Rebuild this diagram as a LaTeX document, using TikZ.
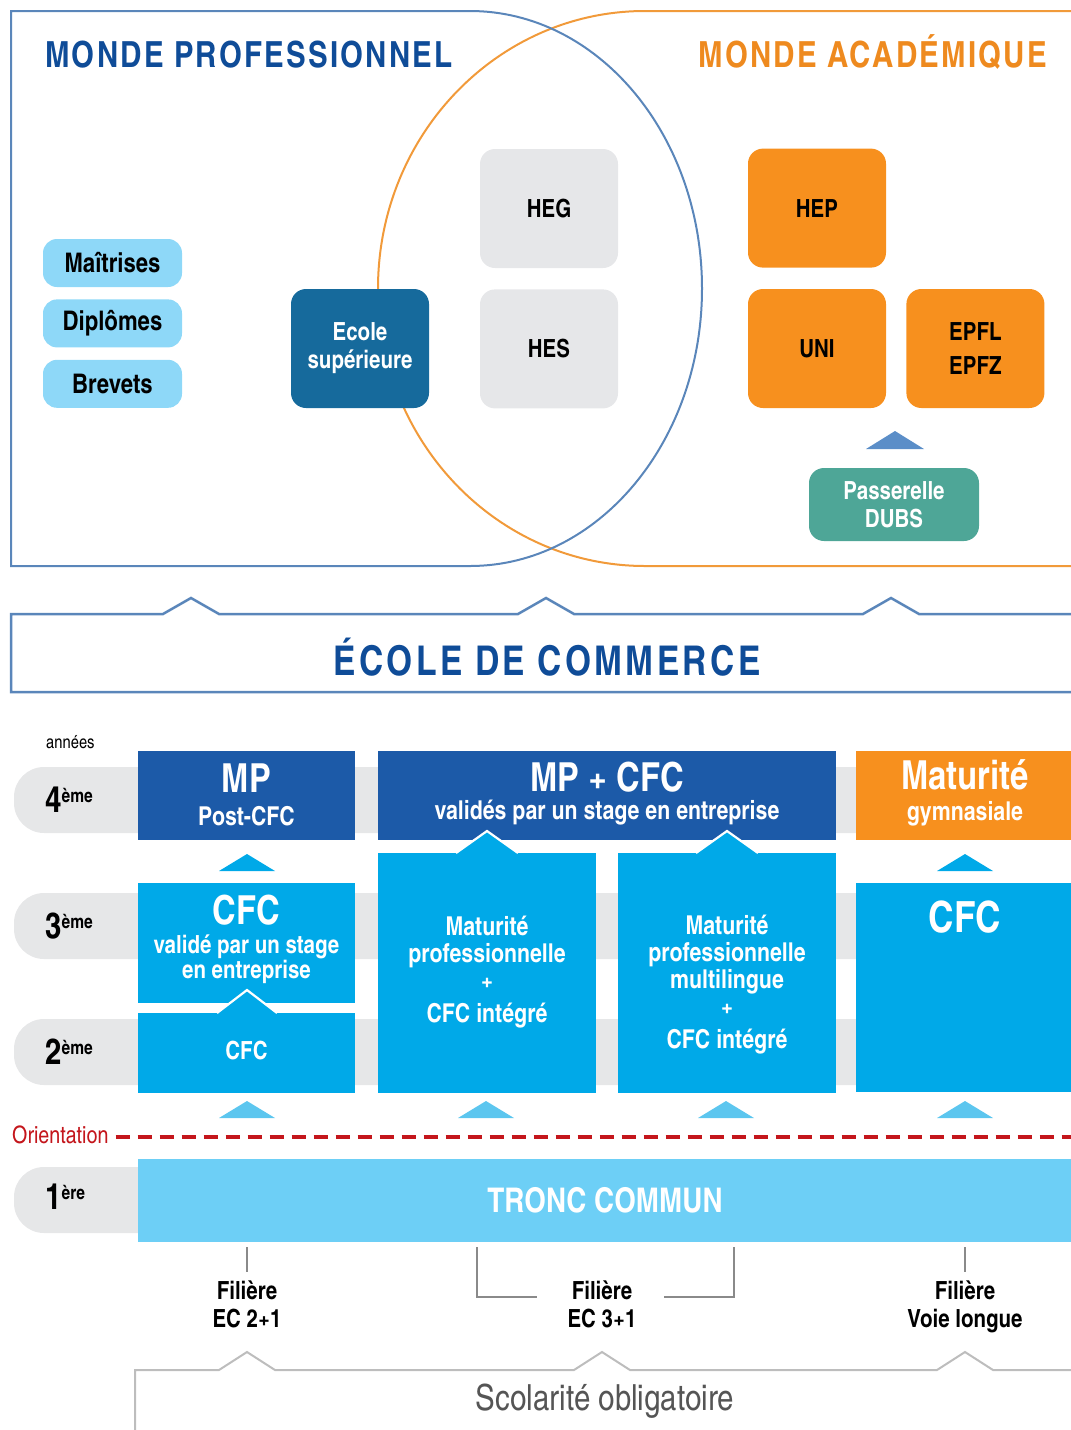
\documentclass[tikz,border=0pt]{standalone}
\usepackage{fontspec}
\setmainfont{texgyreheroscn}[Extension=.otf,UprightFont=*-regular,BoldFont=*-bold,ItalicFont=*-italic,BoldItalicFont=*-bolditalic]
\usetikzlibrary{positioning}

\definecolor{titleblue}{HTML}{0F4C98}
\definecolor{titleorange}{HTML}{EE8A1F}
\definecolor{frameblue}{HTML}{5A86BA}
\definecolor{frameorange}{HTML}{F19A3A}
\definecolor{pillblue}{HTML}{8ED8F8}
\definecolor{supblue}{HTML}{166A9C}
\definecolor{hesgrey}{HTML}{E6E7E9}
\definecolor{uniorange}{HTML}{F7901E}
\definecolor{dubsgreen}{HTML}{4EA697}
\definecolor{tipblue}{HTML}{5B8EC8}
\definecolor{mpblue}{HTML}{1C5AA8}
\definecolor{cfcblue}{HTML}{00A9E8}
\definecolor{lighttip}{HTML}{5CC6EF}
\definecolor{troncblue}{HTML}{6DCFF6}
\definecolor{bandgrey}{HTML}{E6E7E8}
\definecolor{orired}{HTML}{C4161C}
\definecolor{filgrey}{HTML}{8A8A8A}
\definecolor{scolgrey}{HTML}{BDBDBD}
\definecolor{scoltext}{HTML}{555555}

\tikzset{frame/.style = {line width=2pt}}
\tikzset{worldtitle/.style = {inner sep=0pt,
                              font=\bfseries\fontsize{36}{40}\selectfont\addfontfeature{LetterSpace=6}}}
\tikzset{pill/.style = {fill=pillblue, rounded corners=14pt, inner sep=0pt,
                        minimum width=139pt, minimum height=48pt,
                        font=\bfseries\fontsize{27}{28}\selectfont}}
\tikzset{school/.style = {rounded corners=15pt, inner sep=0pt, align=center,
                          minimum width=138pt, minimum height=119pt,
                          font=\bfseries\fontsize{25}{28}\selectfont}}
\tikzset{cellbox/.style = {inner sep=0pt, minimum height=#1}}
\tikzset{bigtxt/.style = {anchor=base, inner sep=0pt, text=white,
                          font=\bfseries\fontsize{40}{40}\selectfont}}
\tikzset{subtxt/.style = {inner sep=0pt, text=white, align=center,
                          font=\bfseries\fontsize{26}{27}\selectfont}}
\tikzset{year/.style = {anchor=base west, inner sep=0pt,
                        font=\bfseries\fontsize{36}{36}\selectfont}}
\tikzset{filiere/.style = {anchor=north, align=center, inner sep=0pt,
                           font=\bfseries\fontsize{25}{28}\selectfont}}
\tikzset{filline/.style = {filgrey, line width=1.2pt}}
\tikzset{caret/.style = {white, line width=2.2pt}}

\newcommand{\yearlabel}[1]{#1\raisebox{10pt}{\fontsize{19}{19}\selectfont ème}}

\begin{document}
\begin{tikzpicture}[x=1pt, y=-1pt]
    \useasboundingbox (0,0) rectangle (1071,1430);
    \clip (0,0) rectangle (1071,1430);

    \draw [frame, frameorange] (1090,11) -- (645,11)
      arc [start angle=-90, end angle=-270, x radius=267, y radius=277.5] -- (1090,566);
    \draw [frame, frameblue] (470,11)
      arc [start angle=-90, end angle=90, x radius=232, y radius=277.5] -- (11,566) -- (11,11) -- cycle;

    \node [worldtitle, text=titleblue, anchor=base west] (prof) at (45,67) {MONDE PROFESSIONNEL};
    \node [worldtitle, text=titleorange, anchor=base east] (acad) at (1047,67) {MONDE ACADÉMIQUE};

    \node [pill] (mait) at (112.5,263) {Maîtrises};
    \node [pill, below=12pt of mait] (dipl) {Diplômes};
    \node [pill, below=12pt of dipl] (brev) {Brevets};

    \node [school, fill=supblue, text=white] (esup) at (360,348.5) {Ecole\\supérieure};
    \node [school, fill=hesgrey] (heg) at (549,208.5) {HEG};
    \node [school, fill=hesgrey, below=21pt of heg] (hes) {HES};
    \node [school, fill=uniorange] (uni) at (817,348.5) {UNI};
    \node [school, fill=uniorange, above=21pt of uni] (hep) {HEP};
    \node [school, fill=uniorange, right=20pt of uni] (epf) {EPFL\\[6pt]EPFZ};
    \node [school, fill=dubsgreen, text=white, minimum width=170pt, minimum height=73pt] (dubs)
      at (894,504.5) {Passerelle\\DUBS};
    \fill [tipblue] (866,449) -- (895,431) -- (924,449) -- cycle;

    \draw [frameblue, line width=2.5pt] (1090,614) -- (919,614) -- (891,598) -- (863,614)
      -- (574,614) -- (546,598) -- (518,614) -- (219,614) -- (191,598) -- (163,614)
      -- (11,614) -- (11,692) -- (1090,692);
    \node [text=titleblue, font=\bfseries\fontsize{41}{41}\selectfont\addfontfeature{LetterSpace=8}]
      (ecom) at (547,657) {ÉCOLE DE COMMERCE};

    \node [anchor=base west, inner sep=0pt, font=\fontsize{18}{18}\selectfont] (annees) at (46,748) {années};

    \foreach \y in {767, 893, 1019, 1167} {
      \fill [bandgrey, rounded corners=30pt] (14,\y) rectangle (1090,\y+66);
    }
    \node [year] (y4) at (45,812) {\yearlabel{4}};
    \node [year] (y3) at (45,938) {\yearlabel{3}};
    \node [year] (y2) at (45,1064) {\yearlabel{2}};
    \node [year] (y1) at (45,1209) {1\raisebox{10pt}{\fontsize{19}{19}\selectfont ère}};

    \node [cellbox=89pt, fill=mpblue, minimum width=217pt] (mppost) at (246.5,795.5) {};
    \node [cellbox=89pt, fill=mpblue, minimum width=458pt] (mpcfc) at (607,795.5) {};
    \node [cellbox=89pt, fill=uniorange, minimum width=218pt] (matgym) at (965,795.5) {};
    \node [bigtxt] (mpposta) at (246.5,792) {MP};
    \node [subtxt, anchor=base] (mppostb) at (246.5,825) {Post-CFC};
    \node [bigtxt] (mpcfca) at (607,791) {MP + CFC};
    \node [subtxt, anchor=base] (mpcfcb) at (607,819) {validés par un stage en entreprise};
    \node [bigtxt] (matgyma) at (965,789) {Maturité};
    \node [subtxt, anchor=base] (matgymb) at (965,820) {gymnasiale};

    \foreach \x in {247, 965} {
      \fill [cfcblue] (\x-28,871) -- (\x,854) -- (\x+28,871) -- cycle;
    }

    \node [cellbox=120pt, fill=cfcblue, minimum width=217pt] (cfcstage) at (246.5,943) {};
    \node [cellbox=80pt, fill=cfcblue, minimum width=217pt] (cfcone) at (246.5,1053) {};
    \node [cellbox=240pt, fill=cfcblue, minimum width=218pt] (matpro) at (487,973) {};
    \node [cellbox=240pt, fill=cfcblue, minimum width=218pt] (matmulti) at (727,973) {};
    \node [cellbox=209pt, fill=cfcblue, minimum width=218pt] (cfclong) at (965,987.5) {};

    \fill [cfcblue] (217,1014) -- (247,990) -- (277,1014) -- cycle;
    \draw [caret] (217,1013) -- (247,990) -- (277,1013);
    \foreach \x in {487, 727} {
      \fill [cfcblue] (\x-31,854) -- (\x,831) -- (\x+31,854) -- cycle;
      \draw [caret] (\x-31,853) -- (\x,831) -- (\x+31,853);
    }

    \node [bigtxt] (cfcstagea) at (246.5,924) {CFC};
    \node [subtxt, font=\bfseries\fontsize{25}{25}\selectfont] (cfcstageb) at (246.5,959) {validé par un stage\\en entreprise};
    \node [subtxt, font=\bfseries\fontsize{25}{25}\selectfont] (cfconet) at (246.5,1051) {CFC};
    \node [subtxt] (matprot) at (487,972) {Maturité\\professionnelle\\+\\[6pt]CFC intégré};
    \node [subtxt] (matmultit) at (727,985) {Maturité\\professionnelle\\multilingue\\+\\[6pt]CFC intégré};
    \node [bigtxt, font=\bfseries\fontsize{43}{43}\selectfont] (cfclongt) at (965,932) {CFC};

    \foreach \x in {247, 486, 726, 965} {
      \fill [lighttip] (\x-28,1118) -- (\x,1101) -- (\x+28,1118) -- cycle;
    }

    \node [anchor=base west, inner sep=0pt, text=orired, font=\fontsize{24}{24}\selectfont]
      (orient) at (12,1143) {Orientation};
    \coordinate (oriend) at (1085,1137);
    \draw [orired, line width=3.5pt, dash pattern=on 14pt off 8pt] (orient.east |- oriend) ++(7,0) -- (oriend);

    \node [cellbox=83pt, fill=troncblue, minimum width=934pt, text=white,
           font=\bfseries\fontsize{34}{34}\selectfont] (tronc) at (605,1200.5) {TRONC COMMUN};

    \node [filiere] (fil21) at (247,1281) {Filière\\EC 2+1};
    \node [filiere] (fil31) at (602,1281) {Filière\\EC 3+1};
    \node [filiere] (fillong) at (965,1281) {Filière\\Voie longue};

    \coordinate (tbase) at ([yshift=-5pt]tronc.south);
    \coordinate (brl) at (477,1247);
    \coordinate (brr) at (734,1247);
    \draw [filline] (tbase -| fil21) -- ++(0,25);
    \draw [filline] (tbase -| fillong) -- ++(0,25);
    \draw [filline] (brl) |- ([xshift=-30pt,yshift=-16pt]fil31.north west);
    \draw [filline] (brr) |- ([xshift=27pt,yshift=-16pt]fil31.north east);

    \draw [scolgrey, line width=2pt] (135,1440) -- (135,1370) -- (219,1370) -- (247,1352) -- (275,1370)
      -- (574,1370) -- (602,1352) -- (630,1370) -- (937,1370) -- (965,1352) -- (993,1370) -- (1090,1370);
    \node [text=scoltext, font=\fontsize{36}{36}\selectfont] (scol) at (605,1401) {Scolarité obligatoire};
\end{tikzpicture}
\end{document}
